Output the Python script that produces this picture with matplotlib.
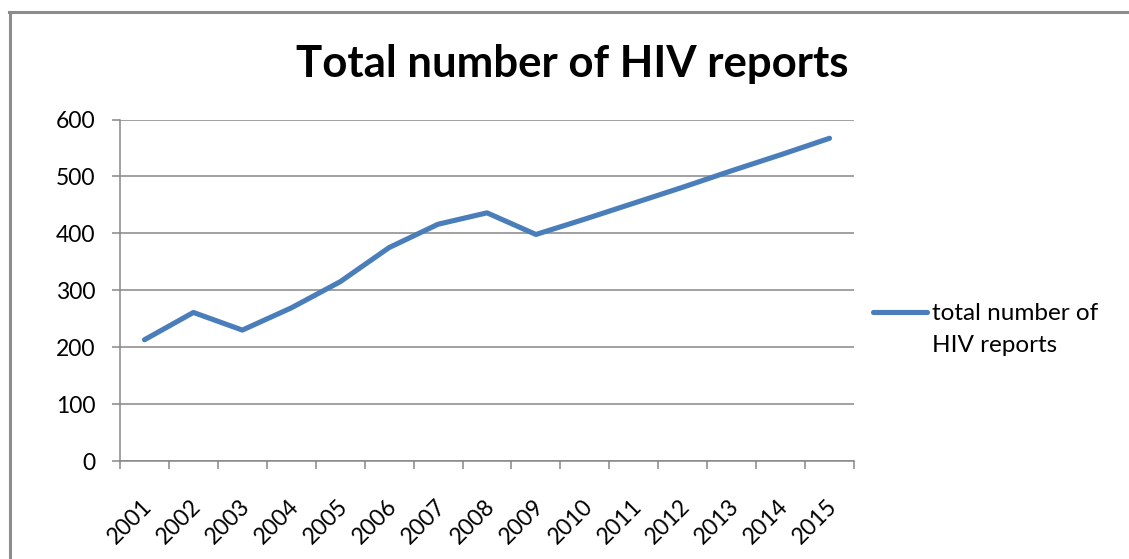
import matplotlib
matplotlib.use("Agg")
import matplotlib.pyplot as plt
from matplotlib.lines import Line2D
from matplotlib.transforms import ScaledTranslation
import numpy as np

years = ["2001", "2002", "2003", "2004", "2005", "2006", "2007", "2008",
         "2009", "2010", "2011", "2012", "2013", "2014", "2015"]
reports = [213, 261, 230, 269, 315, 375, 416, 436, 398, 425, 453, 481, 510, 538, 567]
series_name = "total number of\nHIV reports"
title = "Total number of HIV reports"
y_ticks = [0, 100, 200, 300, 400, 500, 600]

W, H = 1129, 559
plt.rcParams["font.family"] = ["Lato", "DejaVu Sans"]

fig = plt.figure(figsize=(W / 100, H / 100), dpi=100)
ax = fig.add_axes([120 / W, 1 - 461 / H, (854 - 120) / W, (461 - 119.5) / H])

gray = "#878787"
blue = "#4a7ebb"
line_w = 3.7

x = np.arange(len(years))
ax.plot(x, reports, color=blue, lw=line_w, solid_capstyle="round",
        solid_joinstyle="round", zorder=3)

ax.set_xlim(-0.5, len(years) - 0.5)
ax.set_ylim(y_ticks[0], y_ticks[-1])
ax.set_yticks(y_ticks)
ax.set_yticklabels([str(v) for v in y_ticks])
ax.yaxis.grid(True, color=gray, lw=1.1)
ax.set_axisbelow(True)

# category boundaries carry the tick marks, centres carry the labels
ax.set_xticks(np.arange(-0.5, len(years), 1.0))
ax.set_xticklabels([])
ax.set_xticks(x, minor=True)
ax.set_xticklabels(years, minor=True)
ax.tick_params(axis="x", which="major", direction="out", length=5.5,
               color=gray, width=1.1)
ax.tick_params(axis="x", which="minor", length=0, pad=25, labelsize=16.5)
ax.tick_params(axis="y", direction="out", length=5.5, color=gray, width=1.1,
               pad=12, labelsize=16.5)
offset = ScaledTranslation(-3 / 100, 0, fig.dpi_scale_trans)
for lab in ax.get_xticklabels(minor=True):
    lab.set_rotation(45)
    lab.set_rotation_mode("anchor")
    lab.set_ha("right")
    lab.set_va("top")
    lab.set_transform(lab.get_transform() + offset)

for side in ("top", "right"):
    ax.spines[side].set_visible(False)
for side in ("left", "bottom"):
    ax.spines[side].set_color(gray)
    ax.spines[side].set_linewidth(1.1)

fig.text(572 / W, 1 - 76.7 / H, title, ha="center", va="baseline",
         fontsize=31.5, fontweight="bold")

# legend: key line beside the first line of the series name
fig.add_artist(Line2D([873 / W, 927 / W], [1 - 312 / H, 1 - 312 / H],
                      transform=fig.transFigure, color=blue, lw=line_w,
                      solid_capstyle="round"))
for i, row in enumerate(series_name.split("\n")):
    fig.text(932 / W, 1 - (320 + 32 * i) / H, row, ha="left", va="baseline",
             fontsize=17.5)

# outer chart frame (top and left edges)
fig.add_artist(Line2D([9 / W, 1], [1 - 11.5 / H, 1 - 11.5 / H],
                      transform=fig.transFigure, color="#8c8c8c", lw=2.2))
fig.add_artist(Line2D([10 / W, 10 / W], [1 - 11.5 / H, 0],
                      transform=fig.transFigure, color="#8c8c8c", lw=2.2))

fig.savefig("out.png", dpi=100)
